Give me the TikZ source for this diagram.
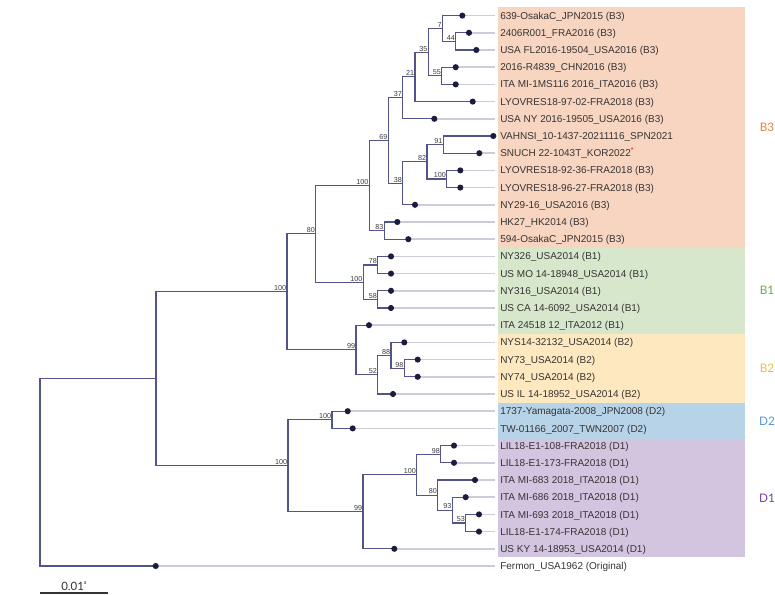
\documentclass[tikz,border=0pt]{standalone}
\usepackage{fontspec}
\setmainfont{Liberation Sans}
\newfontfamily\clfont{Lato}
\definecolor{treec}{RGB}{84,84,140}
\definecolor{leadc}{RGB}{204,204,218}
\definecolor{dotc}{RGB}{28,28,62}
\definecolor{labc}{RGB}{55,52,52}
\definecolor{bsc}{RGB}{60,60,60}
\definecolor{bandBiii}{RGB}{247,213,192}
\definecolor{bandBi}{RGB}{214,231,204}
\definecolor{bandBii}{RGB}{254,232,192}
\definecolor{bandDii}{RGB}{182,211,232}
\definecolor{bandDi}{RGB}{211,196,224}
\definecolor{labBiii}{RGB}{232,128,56}
\definecolor{labBi}{RGB}{108,172,72}
\definecolor{labBii}{RGB}{246,184,58}
\definecolor{labDii}{RGB}{88,152,212}
\definecolor{labDi}{RGB}{122,62,160}
\newcommand\mkleaf[4]{%
  \coordinate (#1) at (#2,{15.6+17.2*#3});
  \node[leaflab] (#1t) at (495,{15.6+17.2*#3}) {#4};
}
\begin{document}
\begin{tikzpicture}[x=0.75pt,y=-0.75pt,
  tree/.style={draw=treec,line width=0.8pt},
  leader/.style={draw=leadc,line width=1.1pt},
  leaflab/.style={anchor=west,inner xsep=3.75pt,inner ysep=0pt,text height=5.4pt,text depth=0pt,font=\fontsize{7.5}{9}\selectfont,text=labc},
  bs/.style={anchor=south east,inner sep=0pt,xshift=-0.4pt,yshift=0.6pt,font=\fontsize{5.4}{6}\selectfont,text=bsc},
  clade/.style={font=\clfont\fontsize{8.8}{10}\selectfont},
  dotstyle/.style={fill=dotc}]
\useasboundingbox (0,0) rectangle (775,595);
% colour bands
\fill[bandBiii] (498,7) rectangle (745,247.8);
\fill[bandBi] (498,247.8) rectangle (745,333.8);
\fill[bandBii] (498,333.8) rectangle (745,402.6);
\fill[bandDii] (498,402.6) rectangle (745,439);
\fill[bandDi] (498,439) rectangle (745,557.4);
% leaves
\mkleaf{l0}{462.3}{0}{639-OsakaC\_JPN2015 (B3)}
\mkleaf{l1}{469}{1}{2406R001\_FRA2016 (B3)}
\mkleaf{l2}{476.3}{2}{USA FL2016-19504\_USA2016 (B3)}
\mkleaf{l3}{455.7}{3}{2016-R4839\_CHN2016 (B3)}
\mkleaf{l4}{455.7}{4}{ITA MI-1MS116 2016\_ITA2016 (B3)}
\mkleaf{l5}{472.7}{5}{LYOVRES18-97-02-FRA2018 (B3)}
\mkleaf{l6}{434.3}{6}{USA NY 2016-19505\_USA2016 (B3)}
\mkleaf{l7}{493.3}{7}{VAHNSI\_10-1437-20211116\_SPN2021}
\mkleaf{l8}{479.3}{8}{SNUCH 22-1043T\_KOR2022\textsuperscript{\textcolor{red}{*}}}
\mkleaf{l9}{460.3}{9}{LYOVRES18-92-36-FRA2018 (B3)}
\mkleaf{l10}{460.3}{10}{LYOVRES18-96-27-FRA2018 (B3)}
\mkleaf{l11}{415}{11}{NY29-16\_USA2016 (B3)}
\mkleaf{l12}{397.3}{12}{HK27\_HK2014 (B3)}
\mkleaf{l13}{408.3}{13}{594-OsakaC\_JPN2015 (B3)}
\mkleaf{l14}{391}{14}{NY326\_USA2014 (B1)}
\mkleaf{l15}{391}{15}{US MO 14-18948\_USA2014 (B1)}
\mkleaf{l16}{391}{16}{NY316\_USA2014 (B1)}
\mkleaf{l17}{391}{17}{US CA 14-6092\_USA2014 (B1)}
\mkleaf{l18}{369}{18}{ITA 24518 12\_ITA2012 (B1)}
\mkleaf{l19}{404.3}{19}{NYS14-32132\_USA2014 (B2)}
\mkleaf{l20}{417.7}{20}{NY73\_USA2014 (B2)}
\mkleaf{l21}{417.7}{21}{NY74\_USA2014 (B2)}
\mkleaf{l22}{393}{22}{US IL 14-18952\_USA2014 (B2)}
\mkleaf{l23}{347.7}{23}{1737-Yamagata-2008\_JPN2008 (D2)}
\mkleaf{l24}{352.7}{24}{TW-01166\_2007\_TWN2007 (D2)}
\mkleaf{l25}{454}{25}{LIL18-E1-108-FRA2018 (D1)}
\mkleaf{l26}{454}{26}{LIL18-E1-173-FRA2018 (D1)}
\mkleaf{l27}{475}{27}{ITA MI-683 2018\_ITA2018 (D1)}
\mkleaf{l28}{465.7}{28}{ITA MI-686 2018\_ITA2018 (D1)}
\mkleaf{l29}{479}{29}{ITA MI-693 2018\_ITA2018 (D1)}
\mkleaf{l30}{479}{30}{LIL18-E1-174-FRA2018 (D1)}
\mkleaf{l31}{394.3}{31}{US KY 14-18953\_USA2014 (D1)}
\mkleaf{l32}{155.7}{32}{Fermon\_USA1962 (Original)}
% internal nodes
\coordinate (n44) at (455.7,41.4);
\coordinate (n7) at (442.3,28.5);
\coordinate (n55) at (441.7,75.8);
\coordinate (n35) at (428.3,52.15);
\coordinate (n21) at (415,76.9);
\coordinate (n37) at (402.7,97.85);
\coordinate (n91) at (443.3,144.6);
\coordinate (n100a) at (446.7,179.0);
\coordinate (n82) at (427,161.8);
\coordinate (n38) at (402.7,183.3);
\coordinate (n69) at (388.3,140.6);
\coordinate (n83) at (384.3,230.6);
\coordinate (nB3) at (369.3,185.6);
\coordinate (n78) at (377.7,265.0);
\coordinate (n58) at (377.7,299.4);
\coordinate (nB1) at (363.3,282.2);
\coordinate (n80) at (315.7,233.9);
\coordinate (n98b) at (404.3,368.2);
\coordinate (n88) at (391,355.3);
\coordinate (n52) at (377.7,374.65);
\coordinate (n99b) at (356,349.9);
\coordinate (n100c) at (287,291.9);
\coordinate (nD2) at (332,419.8);
\coordinate (n98d) at (440.7,454.2);
\coordinate (n53) at (465.7,523.0);
\coordinate (n93) at (452.3,510.1);
\coordinate (n80d) at (437.7,495.05);
\coordinate (n100d) at (416.7,474.6);
\coordinate (n99d) at (363,511.7);
\coordinate (n100e) at (288,465.75);
\coordinate (n100f) at (156,378.8);
\coordinate (root) at (40,472.4);
% leaders
\foreach \i in {0,...,32} \draw[leader] (l\i) -- (l\i t.west);
% tree
\draw[tree] (n44) |- (l1) (n44) |- (l2);
\draw[tree] (n7) |- (l0) (n7) |- (n44);
\draw[tree] (n55) |- (l3) (n55) |- (l4);
\draw[tree] (n35) |- (n7) (n35) |- (n55);
\draw[tree] (n21) |- (n35) (n21) |- (l5);
\draw[tree] (n37) |- (n21) (n37) |- (l6);
\draw[tree] (n91) |- (l7) (n91) |- (l8);
\draw[tree] (n100a) |- (l9) (n100a) |- (l10);
\draw[tree] (n82) |- (n91) (n82) |- (n100a);
\draw[tree] (n38) |- (n82) (n38) |- (l11);
\draw[tree] (n69) |- (n37) (n69) |- (n38);
\draw[tree] (n83) |- (l12) (n83) |- (l13);
\draw[tree] (nB3) |- (n69) (nB3) |- (n83);
\draw[tree] (n78) |- (l14) (n78) |- (l15);
\draw[tree] (n58) |- (l16) (n58) |- (l17);
\draw[tree] (nB1) |- (n78) (nB1) |- (n58);
\draw[tree] (n80) |- (nB3) (n80) |- (nB1);
\draw[tree] (n98b) |- (l20) (n98b) |- (l21);
\draw[tree] (n88) |- (l19) (n88) |- (n98b);
\draw[tree] (n52) |- (n88) (n52) |- (l22);
\draw[tree] (n99b) |- (l18) (n99b) |- (n52);
\draw[tree] (n100c) |- (n80) (n100c) |- (n99b);
\draw[tree] (nD2) |- (l23) (nD2) |- (l24);
\draw[tree] (n98d) |- (l25) (n98d) |- (l26);
\draw[tree] (n53) |- (l29) (n53) |- (l30);
\draw[tree] (n93) |- (l28) (n93) |- (n53);
\draw[tree] (n80d) |- (l27) (n80d) |- (n93);
\draw[tree] (n100d) |- (n98d) (n100d) |- (n80d);
\draw[tree] (n99d) |- (n100d) (n99d) |- (l31);
\draw[tree] (n100e) |- (nD2) (n100e) |- (n99d);
\draw[tree] (n100f) |- (n100c) (n100f) |- (n100e);
\draw[tree] (root) |- (n100f) (root) |- (l32);
% dots
\foreach \i in {0,...,32} \fill[dotstyle] (l\i) circle[radius=2.3pt];
% bootstrap values
\node[bs] (b44) at (n44) {44};
\node[bs] (b7) at (n7) {7};
\node[bs] (b55) at (n55) {55};
\node[bs] (b35) at (n35) {35};
\node[bs] (b21) at (n21) {21};
\node[bs] (b37) at (n37) {37};
\node[bs] (b91) at (n91) {91};
\node[bs] (b100a) at (n100a) {100};
\node[bs] (b82) at (n82) {82};
\node[bs] (b38) at (n38) {38};
\node[bs] (b69) at (n69) {69};
\node[bs] (b83) at (n83) {83};
\node[bs] (bB3) at (nB3) {100};
\node[bs] (b78) at (n78) {78};
\node[bs] (b58) at (n58) {58};
\node[bs] (bB1) at (nB1) {100};
\node[bs] (b80) at (n80) {80};
\node[bs] (b98b) at (n98b) {98};
\node[bs] (b88) at (n88) {88};
\node[bs] (b52) at (n52) {52};
\node[bs] (b99b) at (n99b) {99};
\node[bs] (b100c) at (n100c) {100};
\node[bs] (bD2) at (nD2) {100};
\node[bs] (b98d) at (n98d) {98};
\node[bs] (b53) at (n53) {53};
\node[bs] (b93) at (n93) {93};
\node[bs] (b80d) at (n80d) {80};
\node[bs] (b100d) at (n100d) {100};
\node[bs] (b99d) at (n99d) {99};
\node[bs] (b100e) at (n100e) {100};
% clade labels
\node[clade,text=labBiii] (cB3) at (767,127.5) {B3};
\node[clade,text=labBi] (cB1) at (767,290.5) {B1};
\node[clade,text=labBii] (cB2) at (767,368) {B2};
\node[clade,text=labDii] (cD2) at (767,421) {D2};
\node[clade,text=labDi] (cD1) at (767,498.5) {D1};
% scale bar
\coordinate (sb1) at (40,593);
\coordinate (sb2) at (108,593);
\draw[draw=black!80,line width=0.9pt] (sb1) -- (sb2);
\node[anchor=base west,inner sep=0pt,text=black!80,font=\clfont\fontsize{8.6}{10}\selectfont] (sbl) at (61,590) {0.01\textsuperscript{\fontsize{4}{4}\selectfont a}};
\end{tikzpicture}
\end{document}
